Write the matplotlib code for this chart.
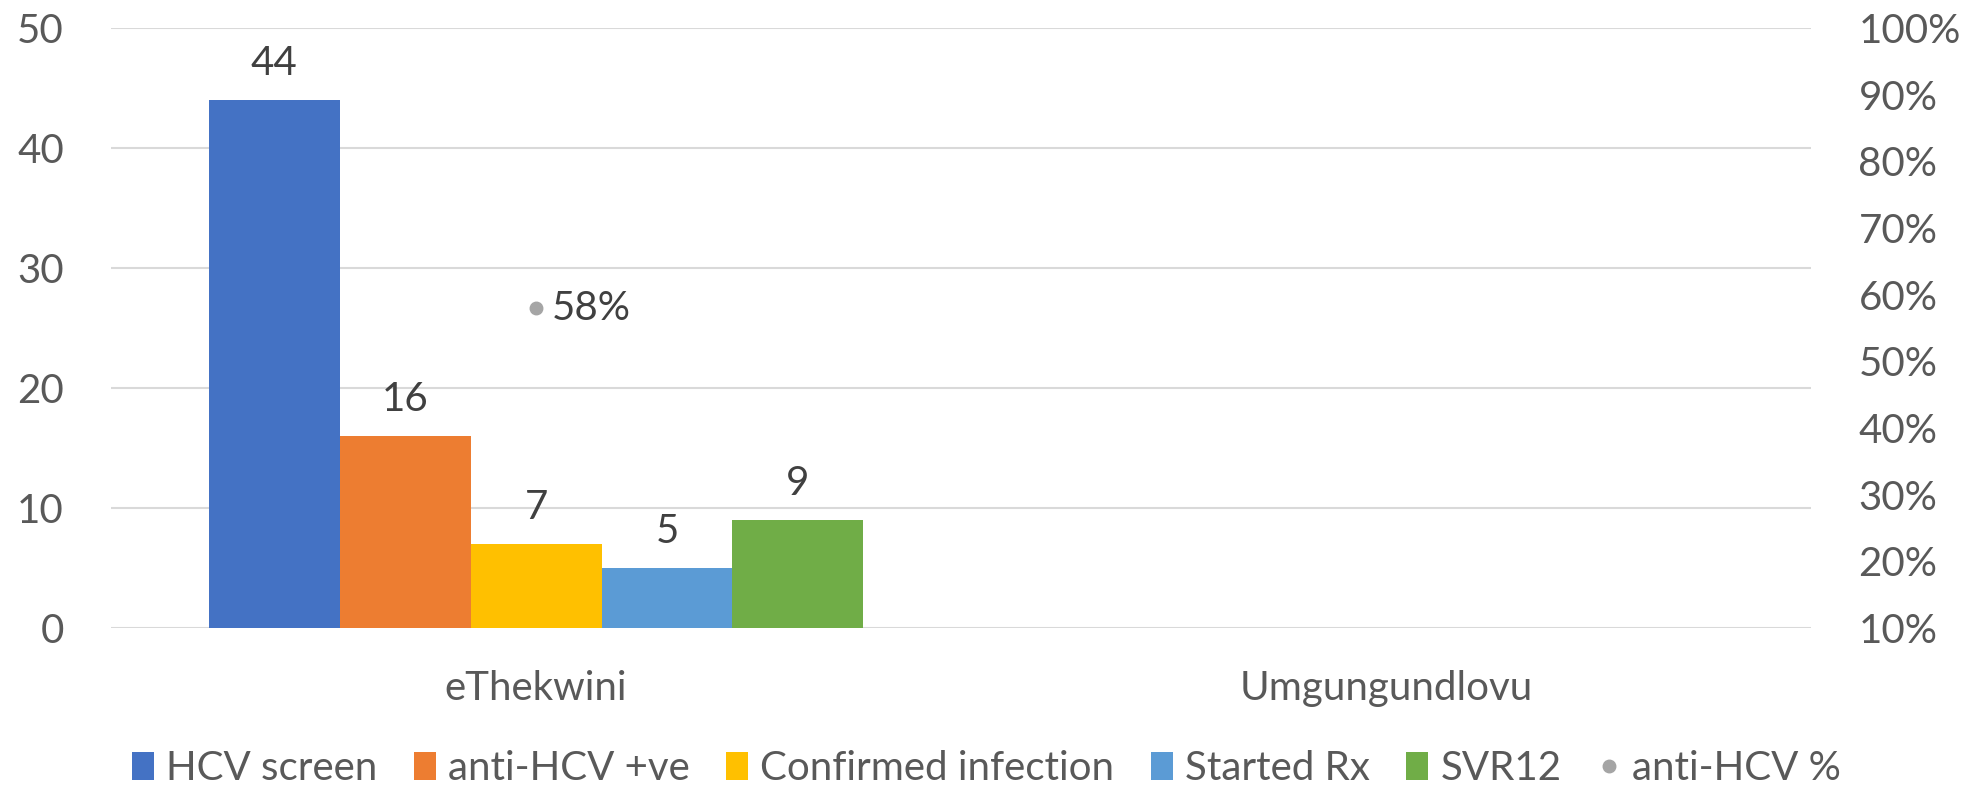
import numpy as np
import matplotlib.pyplot as plt
from matplotlib.patches import Patch
from matplotlib.lines import Line2D

plt.rcParams['font.family'] = ['Lato', 'DejaVu Sans']

# Дані
districts = ['eThekwini', 'Umgungundlovu']
series = ['HCV screen', 'anti-HCV +ve', 'Confirmed infection', 'Started Rx', 'SVR12']
hcv_screen = [44, np.nan]
anti_hcv_pos = [16, np.nan]
confirmed = [7, np.nan]
started_rx = [5, np.nan]
svr12 = [9, np.nan]
anti_hcv_pct = [0.58, np.nan]

colors = ['#4472C4', '#ED7D31', '#FFC000', '#5B9BD5', '#70AD47']
dot_color = '#A5A5A5'
text_color = '#595959'
label_color = '#404040'
fs = 29

fig = plt.figure(figsize=(19.73, 7.92), dpi=100)
ax = fig.add_axes([0.0563, 0.207, 0.8617, 0.7576])
ax2 = ax.twinx()

x = np.arange(len(districts))
bw = 0.154
values = [hcv_screen, anti_hcv_pos, confirmed, started_rx, svr12]
for i, (vals, c) in enumerate(zip(values, colors)):
    pos = x + (i - 2) * bw
    bars = ax.bar(pos, vals, width=bw, color=c, zorder=3)
    for b, v in zip(bars, vals):
        if not np.isnan(v):
            ax.annotate(f'{v:.0f}', (b.get_x() + b.get_width() / 2, v),
                        xytext=(0, 18), textcoords='offset pixels',
                        ha='center', va='bottom', fontsize=fs, color=label_color)

# Точки відсотків
ax2.plot(x, anti_hcv_pct, 'o', color=dot_color, markersize=9, zorder=4)
for xi, p in zip(x, anti_hcv_pct):
    if not np.isnan(p):
        ax2.annotate(f'{p:.0%}', (xi, p), xytext=(16, 0), textcoords='offset pixels',
                     ha='left', va='center', fontsize=fs, color=label_color)

# Осі
ax.set_xlim(-0.5, 1.5)
ax.set_ylim(0, 50)
ax.set_yticks(range(0, 51, 10))
ax.set_xticks(x)
ax.set_xticklabels(districts)
ax.grid(axis='y', color='#D9D9D9', linewidth=1.5, zorder=0)
ax.tick_params(axis='both', length=0, labelsize=fs, colors=text_color)
ax.tick_params(axis='x', pad=30)
ax.tick_params(axis='y', pad=34)

ax2.set_ylim(0.1, 1.0)
ax2.set_yticks(np.arange(0.1, 1.01, 0.1))
ax2.set_yticklabels([f'{t:.0%}' for t in np.arange(0.1, 1.01, 0.1)])
ax2.tick_params(axis='y', length=0, labelsize=fs, colors=text_color, pad=34)

for a in (ax, ax2):
    for s in a.spines.values():
        s.set_visible(False)

handles = [Patch(facecolor=c, label=s) for c, s in zip(colors, series)]
handles.append(Line2D([], [], marker='o', linestyle='none', color=dot_color,
                      markersize=9, label='anti-HCV %'))
fig.legend(handles=handles, loc='center', bbox_to_anchor=(0.5, 0.03), ncol=6,
           frameon=False, fontsize=fs, labelcolor=text_color,
           handlelength=0.55, handleheight=0.7, handletextpad=0.3, columnspacing=0.9)

fig.savefig('out.png', dpi=100)
